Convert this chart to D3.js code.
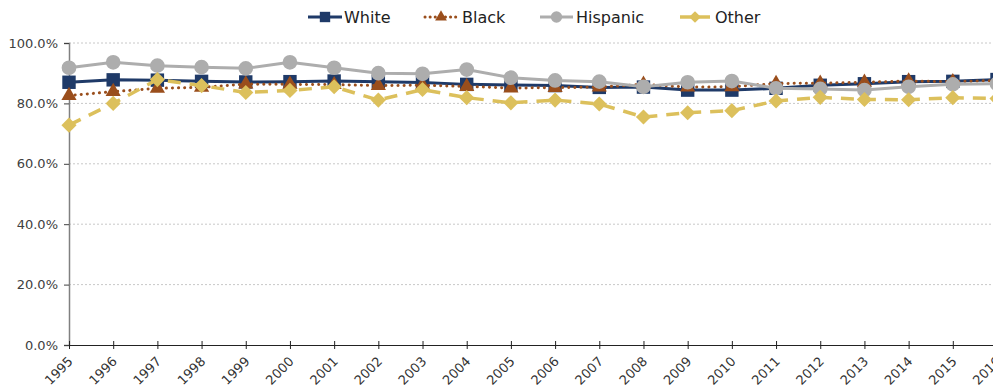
<!DOCTYPE html>
<html><head><meta charset="utf-8">
<script src="https://cdn.jsdelivr.net/npm/d3@7"></script>
<style>html,body{margin:0;padding:0;background:#fff;overflow:hidden}svg{display:block}</style>
</head><body><div id="chart"></div>
<script>
const years = [1995,1996,1997,1998,1999,2000,2001,2002,2003,2004,2005,2006,2007,2008,2009,2010,2011,2012,2013,2014,2015,2016];
const white    = [87.0,87.8,87.7,87.3,87.1,87.2,87.4,87.2,86.9,86.3,86.1,85.9,85.3,85.4,84.4,84.4,85.0,86.0,86.5,87.2,87.3,87.9];
const black    = [82.6,83.9,85.0,85.3,86.4,86.3,86.2,85.9,86.0,85.6,85.1,85.2,85.4,86.3,85.4,85.5,86.6,86.7,87.0,87.4,87.2,87.6];
const hispanic = [91.8,93.6,92.5,92.0,91.6,93.6,91.8,90.0,89.8,91.2,88.5,87.6,87.2,85.5,87.0,87.4,85.0,84.8,84.4,85.5,86.3,86.5];
const other    = [72.8,80.0,87.9,85.9,83.6,84.3,85.5,81.1,84.6,81.9,80.2,81.1,79.8,75.5,76.9,77.6,80.8,82.0,81.3,81.2,81.9,81.6];
const yTicks = [0,20,40,60,80,100];

const W = 993, H = 389;
const svg = d3.select("#chart").append("svg").attr("width", W).attr("height", H);
const x = d3.scalePoint().domain(years).range([69, 997]);
const y = d3.scaleLinear().domain([0,100]).range([345, 43]);
const font = "DejaVu Sans, sans-serif";

// gridlines
svg.append("g").selectAll("line").data(yTicks.filter(d=>d>0)).join("line")
  .attr("x1", 69).attr("x2", W).attr("y1", d=>y(d)).attr("y2", d=>y(d))
  .attr("stroke", "#c8c8c8").attr("stroke-width", 1).attr("stroke-dasharray", "2,2");

// y axis
const yAxis = svg.append("g").attr("transform", "translate(69,0)")
  .call(d3.axisLeft(y).tickValues(yTicks).tickFormat(d=>d3.format(".1f")(d)+"%").tickSize(5).tickPadding(6));
yAxis.select(".domain").attr("stroke", "#808080").attr("stroke-width", 1.5);
yAxis.selectAll(".tick line").attr("stroke", "#404040");
yAxis.selectAll("text").attr("fill", "#404040").style("font-family", font).style("font-size", "13px");

// x axis
const xAxis = svg.append("g").attr("transform", "translate(0,345)")
  .call(d3.axisBottom(x).tickSize(0).tickPadding(0));
xAxis.select(".domain").attr("stroke", "#222").attr("stroke-width", 1);
xAxis.selectAll(".tick line").attr("y1", -4).attr("y2", 4).attr("stroke", "#222");
xAxis.selectAll("text")
  .attr("fill", "#333").style("font-family", font).style("font-size", "13px")
  .attr("text-anchor", "end").attr("dy", "0.35em")
  .attr("transform", "translate(1,14) rotate(-45)");

const series = [
  {name:"White", values:white, color:"#1f3a68", width:3, dash:null, cap:"butt", shape:d3.symbolSquare, size:180, rot:0},
  {name:"Black", values:black, color:"#9a4e1c", width:3, dash:"0.1,6", cap:"round", shape:d3.symbolTriangle, size:100, rot:0},
  {name:"Hispanic", values:hispanic, color:"#adadad", width:3, dash:null, cap:"butt", shape:d3.symbolCircle, size:170, rot:0},
  {name:"Other", values:other, color:"#dcc05c", width:3.5, dash:"13,9", cap:"butt", shape:d3.symbolSquare, size:115, rot:45}
];

const line = d3.line().x((d,i)=>x(years[i])).y(d=>y(d));
series.forEach(s => {
  const g = svg.append("g");
  g.append("path").datum(s.values).attr("d", line).attr("fill","none")
    .attr("stroke", s.color).attr("stroke-width", s.width)
    .attr("stroke-dasharray", s.dash).attr("stroke-linecap", s.cap);
  g.selectAll("path.m").data(s.values).join("path").attr("class","m")
    .attr("transform", (d,i)=>`translate(${x(years[i])},${y(d)}) rotate(${s.rot})`)
    .attr("d", d3.symbol().type(s.shape).size(s.size)).attr("fill", s.color);
});

// legend
const legendItems = [
  {s:series[0], x0:308, x1:342, tx:344},
  {s:series[1], x0:425, x1:457, tx:462},
  {s:series[2], x0:540, x1:573, tx:576},
  {s:series[3], x0:680, x1:710, tx:715}
];
const lg = svg.append("g");
legendItems.forEach(it => {
  const s = it.s, ly = 17;
  lg.append("line").attr("x1", it.x0).attr("x2", it.x1).attr("y1", ly).attr("y2", ly)
    .attr("stroke", s.color).attr("stroke-width", s.width)
    .attr("stroke-dasharray", s.name==="Black" ? "0.1,5" : null)
    .attr("stroke-linecap", s.cap);
  lg.append("path").attr("transform", `translate(${(it.x0+it.x1)/2},${ly}) rotate(${s.rot})`)
    .attr("d", d3.symbol().type(s.shape).size(s.size*0.6)).attr("fill", s.color);
  lg.append("text").attr("x", it.tx).attr("y", ly).attr("dy", "0.36em")
    .style("font-family", font).style("font-size", "16px").attr("fill", "#222").text(s.name);
});
</script></body></html>
